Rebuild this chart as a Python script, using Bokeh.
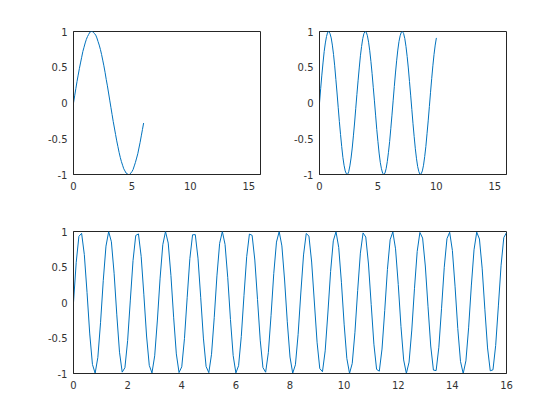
from bokeh.plotting import figure
from bokeh.layouts import row, column
from bokeh.models import FixedTicker, Range1d
from bokeh.embed import file_html
from bokeh.resources import INLINE

x_step = 0.1

y_top_left = [
    0.00, 0.10, 0.20, 0.30, 0.39, 0.48, 0.56, 0.64, 0.72, 0.78,
    0.84, 0.89, 0.93, 0.96, 0.99, 1.00, 1.00, 0.99, 0.97, 0.95,
    0.91, 0.86, 0.81, 0.75, 0.68, 0.60, 0.52, 0.43, 0.33, 0.24,
    0.14, 0.04, -0.06, -0.16, -0.26, -0.35, -0.44, -0.53, -0.61, -0.69,
    -0.76, -0.82, -0.87, -0.92, -0.95, -0.98, -0.99, -1.00, -1.00, -0.98,
    -0.96, -0.93, -0.88, -0.83, -0.77, -0.71, -0.63, -0.55, -0.46, -0.37,
    -0.28,
]

y_top_right = [
    0.00, 0.20, 0.39, 0.56, 0.72, 0.84, 0.93, 0.99, 1.00, 0.97,
    0.91, 0.81, 0.68, 0.52, 0.33, 0.14, -0.06, -0.26, -0.44, -0.61,
    -0.76, -0.87, -0.95, -0.99, -1.00, -0.96, -0.88, -0.77, -0.63, -0.46,
    -0.28, -0.08, 0.12, 0.31, 0.49, 0.66, 0.79, 0.90, 0.97, 1.00,
    0.99, 0.94, 0.85, 0.73, 0.58, 0.41, 0.22, 0.03, -0.17, -0.37,
    -0.54, -0.70, -0.83, -0.92, -0.98, -1.00, -0.98, -0.92, -0.82, -0.69,
    -0.54, -0.36, -0.17, 0.03, 0.23, 0.42, 0.59, 0.74, 0.86, 0.94,
    0.99, 1.00, 0.97, 0.90, 0.79, 0.65, 0.49, 0.30, 0.11, -0.09,
    -0.29, -0.47, -0.64, -0.78, -0.89, -0.96, -1.00, -0.99, -0.95, -0.87,
    -0.75, -0.61, -0.43, -0.25, -0.05, 0.15, 0.34, 0.52, 0.68, 0.81,
    0.91,
]

y_bottom = [
    0.000, 0.565, 0.932, 0.974, 0.675, 0.141, -0.443, -0.872, -0.996, -0.773,
    -0.279, 0.312, 0.794, 0.999, 0.855, 0.412, -0.174, -0.700, -0.981, -0.919,
    -0.537, 0.034, 0.592, 0.944, 0.966, 0.650, 0.108, -0.472, -0.886, -0.992,
    -0.751, -0.247, 0.343, 0.814, 1.000, 0.837, 0.381, -0.207, -0.724, -0.987,
    -0.906, -0.508, 0.067, 0.619, 0.954, 0.956, 0.625, 0.074, -0.501, -0.902,
    -0.988, -0.729, -0.214, 0.375, 0.833, 1.000, 0.818, 0.349, -0.240, -0.747,
    -0.992, -0.890, -0.479, 0.101, 0.645, 0.964, 0.946, 0.598, 0.041, -0.530,
    -0.917, -0.982, -0.705, -0.181, 0.406, 0.851, 0.999, 0.797, 0.317, -0.272,
    -0.768, -0.996, -0.877, -0.449, 0.134, 0.670, 0.972, 0.935, 0.570, 0.007,
    -0.559, -0.930, -0.975, -0.681, -0.148, 0.436, 0.868, 0.997, 0.777, 0.285,
    -0.305, -0.788, -0.998, -0.858, -0.419, 0.167, 0.695, 0.980, 0.922, 0.542,
    -0.027, -0.587, -0.942, -0.967, -0.656, -0.115, 0.466, 0.884, 0.994, 0.756,
    0.254, -0.337, -0.809, -0.999, -0.840, -0.388, 0.200, 0.719, 0.986, 0.908,
    0.514, -0.060, -0.613, -0.952, -0.959, -0.630, -0.081, 0.496, 0.899, 0.989,
    0.733, 0.221, -0.368, -0.829, -1.000, -0.821, -0.357, 0.233, 0.742, 0.991,
    0.894, 0.484, -0.094, -0.640, -0.962, -0.948, -0.604, -0.048, 0.525, 0.914,
    0.984,
]

x_ticks_top = [0, 5, 10, 15]
x_ticks_bottom = [0, 2, 4, 6, 8, 10, 12, 14, 16]
y_ticks = [-1, -0.5, 0, 0.5, 1]
y_tick_labels = ["-1", "-0.5", "0", "0.5", "1"]
x_range_max = 16

LINE = "#0072BD"
TXT = "#333333"
FONT = "DejaVu Sans"


def xs_for(ys):
    return [round(i * x_step, 1) for i in range(len(ys))]


def make(width, height, bl, br, bt, bb, xticks):
    p = figure(width=width, height=height, output_backend="svg",
               toolbar_location=None,
               x_range=Range1d(0, x_range_max), y_range=Range1d(-1, 1),
               min_border_left=bl, min_border_right=br,
               min_border_top=bt, min_border_bottom=bb)
    p.xgrid.visible = False
    p.ygrid.visible = False
    p.outline_line_color = "#262626"
    p.outline_line_width = 1
    p.background_fill_color = "white"
    p.border_fill_color = "white"
    for ax in (p.xaxis[0], p.yaxis[0]):
        ax.major_tick_in = 0
        ax.major_tick_out = 0
        ax.minor_tick_in = 0
        ax.minor_tick_out = 0
        ax.axis_line_color = "#262626"
        ax.major_label_text_font = FONT
        ax.major_label_text_font_size = "10px"
        ax.major_label_text_color = TXT
    p.xaxis[0].ticker = FixedTicker(ticks=xticks)
    p.xaxis[0].major_label_overrides = {t: str(t) for t in xticks}
    p.xaxis[0].major_label_standoff = 7
    p.yaxis[0].ticker = FixedTicker(ticks=y_ticks)
    p.yaxis[0].major_label_overrides = dict(zip(y_ticks, y_tick_labels))
    p.yaxis[0].major_label_standoff = 6
    return p


p1 = make(270, 204, 73, 10, 31, 30, x_ticks_top)
p1.line(xs_for(y_top_left), y_top_left, line_color=LINE, line_width=1)

p2 = make(266, 204, 49, 30, 31, 30, x_ticks_top)
p2.line(xs_for(y_top_right), y_top_right, line_color=LINE, line_width=1)

p3 = make(536, 199, 73, 30, 27, 30, x_ticks_bottom)
p3.line(xs_for(y_bottom), y_bottom, line_color=LINE, line_width=1)

layout = column(row(p1, p2), p3)

open("out.html", "w").write(file_html(layout, INLINE))
